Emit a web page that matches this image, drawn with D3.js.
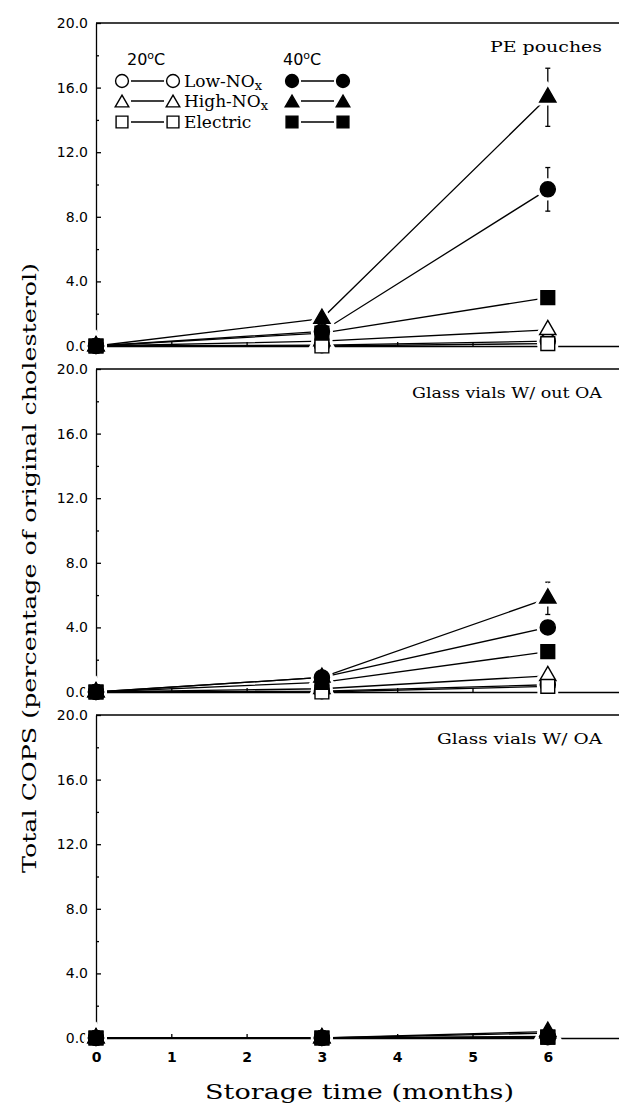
<!DOCTYPE html>
<html>
<head>
<meta charset="utf-8">
<script src="https://cdn.jsdelivr.net/npm/d3@7"></script>
<style>
  body { margin: 0; background: #fff; }
  svg { display: block; }
</style>
</head>
<body>
<div id="container"></div>
<script>
var months = [0, 3, 6];
var xTicks = [0, 1, 2, 3, 4, 5, 6, 7];
var yTicks = [0, 4, 8, 12, 16, 20];
var yMinorTicks = [2, 6, 10, 14, 18];
var panelNames = ["PE pouches", "Glass vials W/ out OA", "Glass vials W/ OA"];
var seriesNames = ["Low-NOx", "High-NOx", "Electric"];
var tempNames = ["20", "40"];

// order: 20C Low-NOx, High-NOx, Electric, 40C Low-NOx, High-NOx, Electric
var pePouches = [
  [0, 0.05, 0.3],
  [0, 0.3, 1.0],
  [0, 0.0, 0.15],
  [0, 0.9, 9.7],
  [0, 1.7, 15.4],
  [0, 0.8, 3.0]
];
var glassNoOA = [
  [0, 0.05, 0.45],
  [0, 0.2, 1.0],
  [0, 0.0, 0.35],
  [0, 0.9, 4.0],
  [0, 0.9, 5.8],
  [0, 0.6, 2.5]
];
var glassOA = [
  [0, 0.0, 0.05],
  [0, 0.0, 0.3],
  [0, 0.0, 0.05],
  [0, 0.0, 0.1],
  [0, 0.0, 0.4],
  [0, 0.0, 0.05]
];
// standard deviation at 6 months
var peErr = [0, 0, 0, 1.35, 1.8, 0];
var glassNoOAErr = [0, 0, 0, 0.55, 1.0, 0];
var glassOAErr = [0, 0, 0, 0, 0, 0];

var panelData = [pePouches, glassNoOA, glassOA];
var panelErr = [peErr, glassNoOAErr, glassOAErr];

var width = 619, height = 1107;
var panel = { left: 96, firstTop: 23, step: 346, h: 323 };
var serif = "'DejaVu Serif', serif";
var sans = "'DejaVu Sans', sans-serif";

var svg = d3.select("#container").append("svg")
  .attr("width", width)
  .attr("height", height);

var x = d3.scaleLinear().domain([0, 7]).range([panel.left, panel.left + 7 * 75.3]);

var shapeTypes = [d3.symbolCircle, d3.symbolTriangle, d3.symbolSquare];
var shapeSizes = [180, 115, 190];
var legendSizes = [130, 80, 140];

function symbolPath(k, sizes) {
  return d3.symbol().type(shapeTypes[k]).size(sizes[k])();
}

panelNames.forEach(function (name, pi) {
  var top = panel.firstTop + pi * panel.step;
  var y = d3.scaleLinear().domain([0, 20]).range([top + panel.h, top]);
  var g = svg.append("g").attr("class", "panel");

  // top frame line
  g.append("line")
    .attr("x1", panel.left).attr("x2", width)
    .attr("y1", top).attr("y2", top)
    .attr("stroke", "#000").attr("stroke-width", 1.3);

  // y axis
  var ya = g.append("g")
    .attr("transform", "translate(" + panel.left + ",0)")
    .call(d3.axisLeft(y).tickValues(yTicks).tickSize(-5).tickSizeOuter(0)
      .tickPadding(8).tickFormat(d3.format(".1f")));
  ya.selectAll("text").style("font-family", sans).style("font-size", "14px").attr("fill", "#000");
  g.append("g")
    .attr("transform", "translate(" + panel.left + ",0)")
    .call(d3.axisLeft(y).tickValues(yMinorTicks).tickSize(-3).tickSizeOuter(0).tickFormat(""))
    .select(".domain").remove();

  // x axis
  var xa = g.append("g")
    .attr("transform", "translate(0," + y(0) + ")")
    .call(d3.axisBottom(x).tickValues(xTicks).tickSize(-4).tickSizeOuter(0)
      .tickPadding(14).tickFormat(d3.format("d")));
  if (pi === panelNames.length - 1) {
    xa.selectAll("text").style("font-family", sans).style("font-size", "14px")
      .style("font-weight", "bold").attr("fill", "#000");
  } else {
    xa.selectAll("text").remove();
  }
  g.selectAll(".domain, .tick line").attr("stroke", "#000").attr("stroke-width", 1.3);

  // panel label
  var labelLen = [112, 190, 165][pi];
  g.append("text")
    .attr("x", 602 - labelLen).attr("y", top + 29)
    .attr("textLength", labelLen).attr("lengthAdjust", "spacingAndGlyphs")
    .style("font-family", serif).style("font-size", "15px")
    .text(name);

  var data = panelData[pi];
  var err = panelErr[pi];
  var line = d3.line()
    .x(function (d, i) { return x(months[i]); })
    .y(function (d) { return y(d); });

  // connecting lines
  g.selectAll("path.series").data(data).enter().append("path")
    .attr("class", "series")
    .attr("d", line)
    .attr("fill", "none").attr("stroke", "#000").attr("stroke-width", 1.3);

  // error bars at 6 months
  data.forEach(function (vals, si) {
    var e = err[si];
    if (!e) return;
    var v = vals[2], cx = x(months[2]);
    var eb = g.append("g").attr("stroke", "#000").attr("stroke-width", 1.3);
    eb.append("line").attr("x1", cx).attr("x2", cx).attr("y1", y(v - e)).attr("y2", y(v + e));
    [v - e, v + e].forEach(function (c) {
      eb.append("line").attr("x1", cx - 2.5).attr("x2", cx + 2.5).attr("y1", y(c)).attr("y2", y(c));
    });
  });

  // marker points
  var pts = [];
  data.forEach(function (vals, si) {
    vals.forEach(function (v, i) {
      pts.push({ si: si, shape: si % 3, filled: si >= 3, x: x(months[i]), y: y(v) });
    });
  });

  // white halos leave gaps between lines and markers
  g.selectAll("path.halo").data(pts).enter().append("path")
    .attr("class", "halo")
    .attr("transform", function (d) { return "translate(" + d.x + "," + d.y + ")"; })
    .attr("d", function (d) { return symbolPath(d.shape, shapeSizes); })
    .attr("fill", "#fff").attr("stroke", "#fff").attr("stroke-width", 7);

  g.selectAll("path.marker").data(pts).enter().append("path")
    .attr("class", "marker")
    .attr("transform", function (d) { return "translate(" + d.x + "," + d.y + ")"; })
    .attr("d", function (d) { return symbolPath(d.shape, shapeSizes); })
    .attr("fill", function (d) { return d.filled ? "#000" : "#fff"; })
    .attr("stroke", "#000").attr("stroke-width", 1.4);
});

// legend
var legend = svg.append("g").attr("class", "legend");
[127, 283].forEach(function (lx, ti) {
  var t = legend.append("text").attr("x", lx).attr("y", 65)
    .style("font-family", sans).style("font-size", "16px");
  t.append("tspan").text(tempNames[ti]);
  t.append("tspan").attr("dy", -6).style("font-size", "11px").text("o");
  t.append("tspan").attr("dy", 6).text("C");
});
var rowY = [81, 101, 122];
seriesNames.forEach(function (s, k) {
  var ry = rowY[k];
  var open = [122, 173], filled = [292, 343];
  [open, filled].forEach(function (pair, fi) {
    legend.append("line")
      .attr("x1", pair[0] + 9).attr("x2", pair[1] - 9)
      .attr("y1", ry).attr("y2", ry)
      .attr("stroke", "#000").attr("stroke-width", 1.3);
    pair.forEach(function (px) {
      legend.append("path")
        .attr("transform", "translate(" + px + "," + (ry + (k === 1 ? 2 : 0)) + ")")
        .attr("d", symbolPath(k, legendSizes))
        .attr("fill", fi ? "#000" : "#fff")
        .attr("stroke", "#000").attr("stroke-width", 1.4);
    });
  });
  var t = legend.append("text").attr("x", 184).attr("y", ry + 6)
    .style("font-family", serif).style("font-size", "17px");
  if (s.indexOf("NOx") >= 0) {
    t.append("tspan").text(s.replace("NOx", "NO"));
    t.append("tspan").attr("dy", 3).style("font-size", "13px").text("x");
  } else {
    t.text(s);
  }
});

// axis titles
svg.append("text")
  .attr("x", x(3.5)).attr("y", 1099)
  .attr("text-anchor", "middle")
  .attr("textLength", 309).attr("lengthAdjust", "spacingAndGlyphs")
  .style("font-family", serif).style("font-size", "20px")
  .text("Storage time (months)");

svg.append("text")
  .attr("transform", "translate(36,568) rotate(-90)")
  .attr("text-anchor", "middle")
  .attr("textLength", 610).attr("lengthAdjust", "spacingAndGlyphs")
  .style("font-family", serif).style("font-size", "19px")
  .text("Total COPS (percentage of original cholesterol)");
</script>
</body>
</html>
